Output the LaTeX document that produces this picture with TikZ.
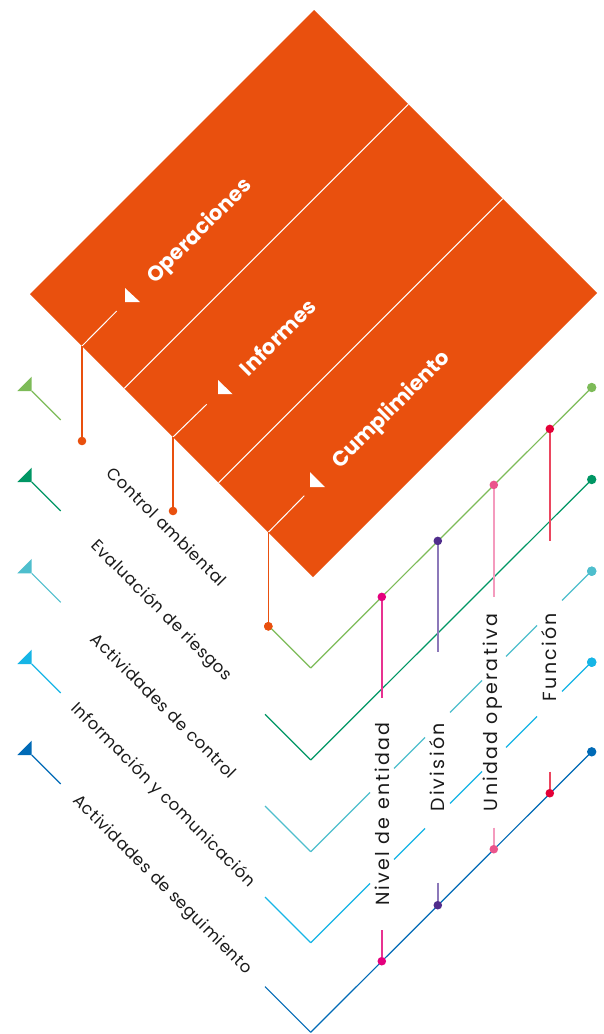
\documentclass[tikz,border=0pt]{standalone}
\usepackage{fontspec}
\setmainfont{Poppins}
\newfontfamily\diaglabel[LetterSpace=4]{Poppins}
\newfontfamily\vertlabel[LetterSpace=12]{Poppins}
\newfontfamily\pillarfont{Poppins}
\usetikzlibrary{calc}
\definecolor{coso}{RGB}{233,80,14}
\definecolor{rA}{RGB}{125,187,88}
\definecolor{rB}{RGB}{0,150,100}
\definecolor{rC}{RGB}{78,190,205}
\definecolor{rD}{RGB}{22,181,230}
\definecolor{rE}{RGB}{0,106,182}
\definecolor{cMag}{RGB}{228,0,125}
\definecolor{cMagL}{RGB}{232,50,145}
\definecolor{cPur}{RGB}{80,45,140}
\definecolor{cPurL}{RGB}{140,120,185}
\definecolor{cPnk}{RGB}{235,85,140}
\definecolor{cPnkL}{RGB}{244,155,190}
\definecolor{cRed}{RGB}{228,0,55}
\definecolor{cRedL}{RGB}{235,70,95}
\definecolor{txt}{RGB}{26,26,26}
\tikzset{
  rowline/.style={line width=1.2pt},
  colline/.style={line width=1.6pt},
  divider/.style={draw=white, line width=1pt},
  drop/.style={draw=coso, line width=1.4pt},
  enddot/.style={circle, inner sep=0pt, minimum size=9.4pt},
  coldot/.style={circle, inner sep=0pt, minimum size=8.6pt},
  odot/.style={circle, inner sep=0pt, minimum size=8.6pt, fill=coso},
  diaglbl/.style={rotate=-45, inner sep=0pt, text=txt, font=\diaglabel\fontsize{16.5}{19}\selectfont},
  vertlbl/.style={rotate=90, inner sep=0pt, text=txt, font=\vertlabel\fontsize{19}{22}\selectfont},
  pillar/.style={rotate=45, inner sep=0pt, text=white, font=\pillarfont\bfseries\fontsize{21}{24}\selectfont},
}
\begin{document}
\begin{tikzpicture}[x=1pt,y=-1pt]
\fill[white] (0,0) rectangle (603,1034);
\useasboundingbox (0,0) rectangle (603,1034);

% cube face
\fill[coso] (314,10) coordinate (dT) -- (597,293) coordinate (dR)
  -- (313,577) coordinate (dB) -- (30,294) coordinate (dL) -- cycle;
\draw[divider] ($(dL)!1/3!(dB)$) -- ($(dT)!1/3!(dR)$);
\draw[divider] ($(dL)!2/3!(dB)$) -- ($(dT)!2/3!(dR)$);

% pillar labels
\node[pillar] (op) at (200,231.5) {Operaciones};
\node[pillar] (inf) at (277.5,337) {Informes};
\node[pillar] (cum) at (391.5,410) {Cumplimiento};
\fill[white] (125,288) -- (125,302) -- (140,302) -- cycle;
\fill[white] (218,380) -- (218,394) -- (232.5,394) -- cycle;
\fill[white] (310,472) -- (310,487) -- (325,487) -- cycle;

% drop lines
\coordinate (w1) at (116.7,311);   \coordinate (e1) at (82,346);
\coordinate (w2) at (206.7,404.3); \coordinate (e2) at (173,437);
\coordinate (w3) at (304.3,495.7); \coordinate (e3) at (268.3,532.3);
\draw[divider] (w1) -- (e1);
\draw[divider] (w2) -- (e2);
\draw[divider] (w3) -- (e3);
\node[odot] (o1) at (82,441) {};
\node[odot] (o2) at (173,511) {};
\node[odot] (o3) at (268.3,626.3) {};
\draw[drop] (e1) -- (o1.center);
\draw[drop] (e2) -- (o2.center);
\draw[drop] (e3) -- (o3.center);

% component rows
\foreach \i/\col/\fy/\by/\sx/\lx/\txt in {
  1/rA/391/668/268.3/167/Control ambiental,
  2/rB/482/760/265/161/Evaluación de riesgos,
  3/rC/573.3/851.7/265/164/Actividades de control,
  4/rD/664/942.7/265/163/Información y comunicación,
  5/rE/755/1032.3/265/162/Actividades de seguimiento}{
  \pgfmathsetmacro\yL{\fy+29}
  \pgfmathsetmacro\yS{\by-(310.7-\sx)}
  \pgfmathsetmacro\yE{\by-280.5}
  \pgfmathsetmacro\ylab{\fy+\lx-31.7}
  \coordinate (F\i) at (31.7,\fy);
  \coordinate (L\i) at (60.7,\yL);
  \coordinate (S\i) at (\sx,\yS);
  \coordinate (B\i) at (310.7,\by);
  \fill[\col] (F\i) -- ++(-14.4,0) -- ++(14.4,-14.4) -- cycle;
  \draw[rowline,\col] (F\i) -- (L\i);
  \node[diaglbl] (T\i) at (\lx,\ylab) {\txt};
  \draw[rowline,\col] (S\i) -- (B\i);
  \node[enddot, fill=\col] (E\i) at (591.7,\yE) {};
}
\node[odot] at (o3) {};

% continuous rising lines
\draw[rowline,rA] (B1) -- (E1.center);
\draw[rowline,rB] (B2) -- (E2.center);
\draw[rowline,rE] (B5) -- (E5.center);
% interrupted rising lines
\foreach \r/\by/\col in {3/851.7/rC, 4/942.7/rD}{
  \foreach \xa/\xb in {310.7/370, 394/425, 450/482, 506/537, 562/591.7}{
    \pgfmathsetmacro\ya{\by-\xa+310.7}
    \pgfmathsetmacro\yb{\by-\xb+310.7}
    \draw[rowline,\col] (\xa,\ya) -- (\xb,\yb);
  }
}
\node[enddot, fill=rC] at (E3) {};
\node[enddot, fill=rD] at (E4) {};

% organisational levels
\foreach \j/\c/\lend/\ttop/\lc/\dc in {
  1/381.8/698/930/cMagL/cMag,
  2/437.8/651.7/882.7/cPurL/cPur,
  3/493.8/596.7/827.7/cPnkL/cPnk,
  4/549.8/540.7/771.7/cRedL/cRed}{
  \pgfmathsetmacro\ytop{668-\c+310.7}
  \pgfmathsetmacro\ybot{1032.3-\c+310.7}
  \coordinate (Ln\j) at (\c,\lend);
  \coordinate (Tk\j) at (\c,\ttop);
  \node[coldot, fill=\dc] (Ut\j) at (\c,\ytop) {};
  \node[coldot, fill=\dc] (Ub\j) at (\c,\ybot) {};
  \draw[colline,\lc] (Ut\j.south) -- (Ln\j);
  \draw[colline,\lc] (Tk\j) -- (Ub\j.north);
}
\node[vertlbl] (V1) at (382,814) {Nivel de entidad};
\node[vertlbl] (V2) at (437,767.5) {División};
\node[vertlbl] (V3) at (492.5,712.5) {Unidad operativa};
\node[vertlbl] (V4) at (549.5,657) {Función};
\end{tikzpicture}
\end{document}
